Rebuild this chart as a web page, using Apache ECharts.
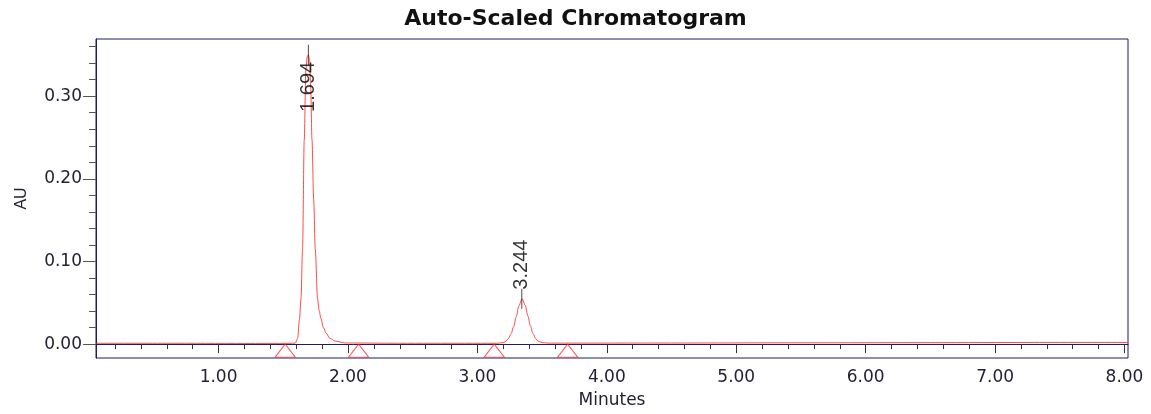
<!DOCTYPE html>
<html>
<head>
<meta charset="utf-8">
<script src="https://cdn.jsdelivr.net/npm/echarts@6/dist/echarts.min.js"></script>
<style>
html,body{margin:0;padding:0;background:#fff;}
#main{width:1151px;height:414px;}
</style>
</head>
<body>
<div id="main"></div>
<script>
// signal: [minutes, AU]
var signal = [
	[0.053, 0.0010], [0.60, 0.0010], [1.20, 0.0008], [1.55, 0.0009], [1.593, 0.0012],
	[1.611, 0.007], [1.625, 0.030], [1.637, 0.055], [1.649, 0.115], [1.662, 0.247],
	[1.675, 0.333], [1.685, 0.348], [1.694, 0.350], [1.703, 0.345], [1.712, 0.310],
	[1.722, 0.247], [1.735, 0.175], [1.747, 0.115], [1.765, 0.055], [1.778, 0.040],
	[1.791, 0.031], [1.810, 0.020], [1.832, 0.013], [1.860, 0.007], [1.902, 0.0036],
	[1.980, 0.0014], [2.40, 0.0010], [2.90, 0.0010], [3.15, 0.0010], [3.20, 0.0018],
	[3.22, 0.0035], [3.24, 0.0068], [3.26, 0.0125], [3.28, 0.021], [3.30, 0.033],
	[3.32, 0.046], [3.345, 0.055], [3.37, 0.047], [3.39, 0.034], [3.41, 0.022],
	[3.43, 0.0125], [3.45, 0.0068], [3.47, 0.0035], [3.50, 0.0018], [3.55, 0.0012],
	[3.60, 0.0012], [4.50, 0.0013], [5.50, 0.0016], [6.50, 0.0018], [7.30, 0.0020],
	[8.027, 0.0020]
];
// peak apex [minutes, AU] and the retention time printed on it
var peaks = [[1.694, 0.350], [3.343, 0.055]];
var peakNames = ['1.694', '3.244'];
// integration start/end markers
var baseMarks = [[1.515, 0], [2.082, 0], [3.130, 0], [3.697, 0]];

var xMin = 0.053, xMax = 8.027;
var yMin = -0.0168, yMax = 0.3692;
var xMajor = [1, 2, 3, 4, 5, 6, 7, 8];
var xMinor = [0.2, 0.4, 0.6, 0.8, 1.2, 1.4, 1.6, 1.8, 2.2, 2.4, 2.6, 2.8, 3.2, 3.4, 3.6, 3.8,
	4.2, 4.4, 4.6, 4.8, 5.2, 5.4, 5.6, 5.8, 6.2, 6.4, 6.6, 6.8, 7.2, 7.4, 7.6, 7.8];
var yMajor = [0, 0.1, 0.2, 0.3];
var yMinor = [0.02, 0.04, 0.06, 0.08, 0.12, 0.14, 0.16, 0.18, 0.22, 0.24, 0.26, 0.28, 0.32, 0.34, 0.36];

var frame = '#1e1e5a';
var txt = '#222233';
var fnt = 'DejaVu Sans';

var peakData = [];
for (var i = 0; i < peaks.length; i++) {
	var up = i > 0; // first label sits inside the peak, as in the print
	peakData.push({
		value: peaks[i],
		name: peakNames[i],
		label: up
			? {position: 'top', distance: -1, align: 'left'}
			: {position: 'bottom', distance: -3, align: 'right'}
	});
}

var myChart = echarts.init(document.getElementById('main'));
var option = {
	animation: false,
	title: {
		text: 'Auto-Scaled Chromatogram',
		left: 'center',
		top: 3,
		textStyle: {fontFamily: fnt, fontWeight: 'bold', fontSize: 22, color: '#111'}
	},
	grid: {
		left: 96, right: 23, top: 39, bottom: 54,
		show: true, borderColor: frame, borderWidth: 1
	},
	xAxis: [
		{
			type: 'value', min: xMin, max: xMax,
			name: 'Minutes', nameLocation: 'middle', nameGap: 34,
			nameTextStyle: {fontFamily: fnt, fontSize: 17, color: txt},
			axisLine: {lineStyle: {color: frame}},
			axisTick: {customValues: xMajor, length: 9, lineStyle: {color: '#333'}},
			axisLabel: {customValues: xMajor, margin: 11, fontFamily: fnt, fontSize: 17, color: txt,
				formatter: function (v) { return v.toFixed(2); }},
			splitLine: {show: false}
		},
		{
			type: 'value', min: xMin, max: xMax, position: 'bottom',
			axisLine: {show: false},
			axisTick: {customValues: xMinor, length: 5, lineStyle: {color: '#333'}},
			axisLabel: {show: false},
			splitLine: {show: false}
		}
	],
	yAxis: [
		{
			type: 'value', min: yMin, max: yMax,
			name: 'AU', nameLocation: 'middle', nameGap: 66, nameRotate: 90,
			nameTextStyle: {fontFamily: 'Liberation Sans', fontSize: 16, color: txt},
			axisLine: {show: true, lineStyle: {color: frame}},
			axisTick: {customValues: yMajor, length: 13, lineStyle: {color: '#555'}},
			axisLabel: {customValues: yMajor, margin: 14, fontFamily: fnt, fontSize: 17, color: txt,
				formatter: function (v) { return v.toFixed(2); }},
			splitLine: {show: false}
		},
		{
			type: 'value', min: yMin, max: yMax, position: 'left',
			axisLine: {show: false},
			axisTick: {customValues: yMinor, length: 7, lineStyle: {color: '#555'}},
			axisLabel: {show: false},
			splitLine: {show: false}
		}
	],
	series: [
		{
			name: 'signal',
			type: 'line',
			data: signal,
			showSymbol: false,
			smooth: 0.3,
			smoothMonotone: 'x',
			lineStyle: {color: 'rgba(255,30,30,0.8)', width: 1},
			z: 2
		},
		{
			name: 'marks',
			type: 'scatter',
			data: baseMarks,
			symbol: 'triangle',
			symbolSize: [20, 13],
			symbolOffset: [0, 6.5],
			itemStyle: {color: 'rgba(255,255,255,0)', borderColor: '#ff2a2a', borderWidth: 1},
			z: 3
		},
		{
			name: 'peaks',
			type: 'scatter',
			data: peakData,
			symbol: 'rect',
			symbolSize: [1, 20],
			itemStyle: {color: '#222'},
			label: {
				show: true,
				rotate: 90,
				verticalAlign: 'middle',
				fontFamily: "'Liberation Sans', Arial",
				fontSize: 20,
				color: '#000',
				formatter: '{b}'
			},
			z: 4
		}
	]
};
myChart.setOption(option);
</script>
</body>
</html>
